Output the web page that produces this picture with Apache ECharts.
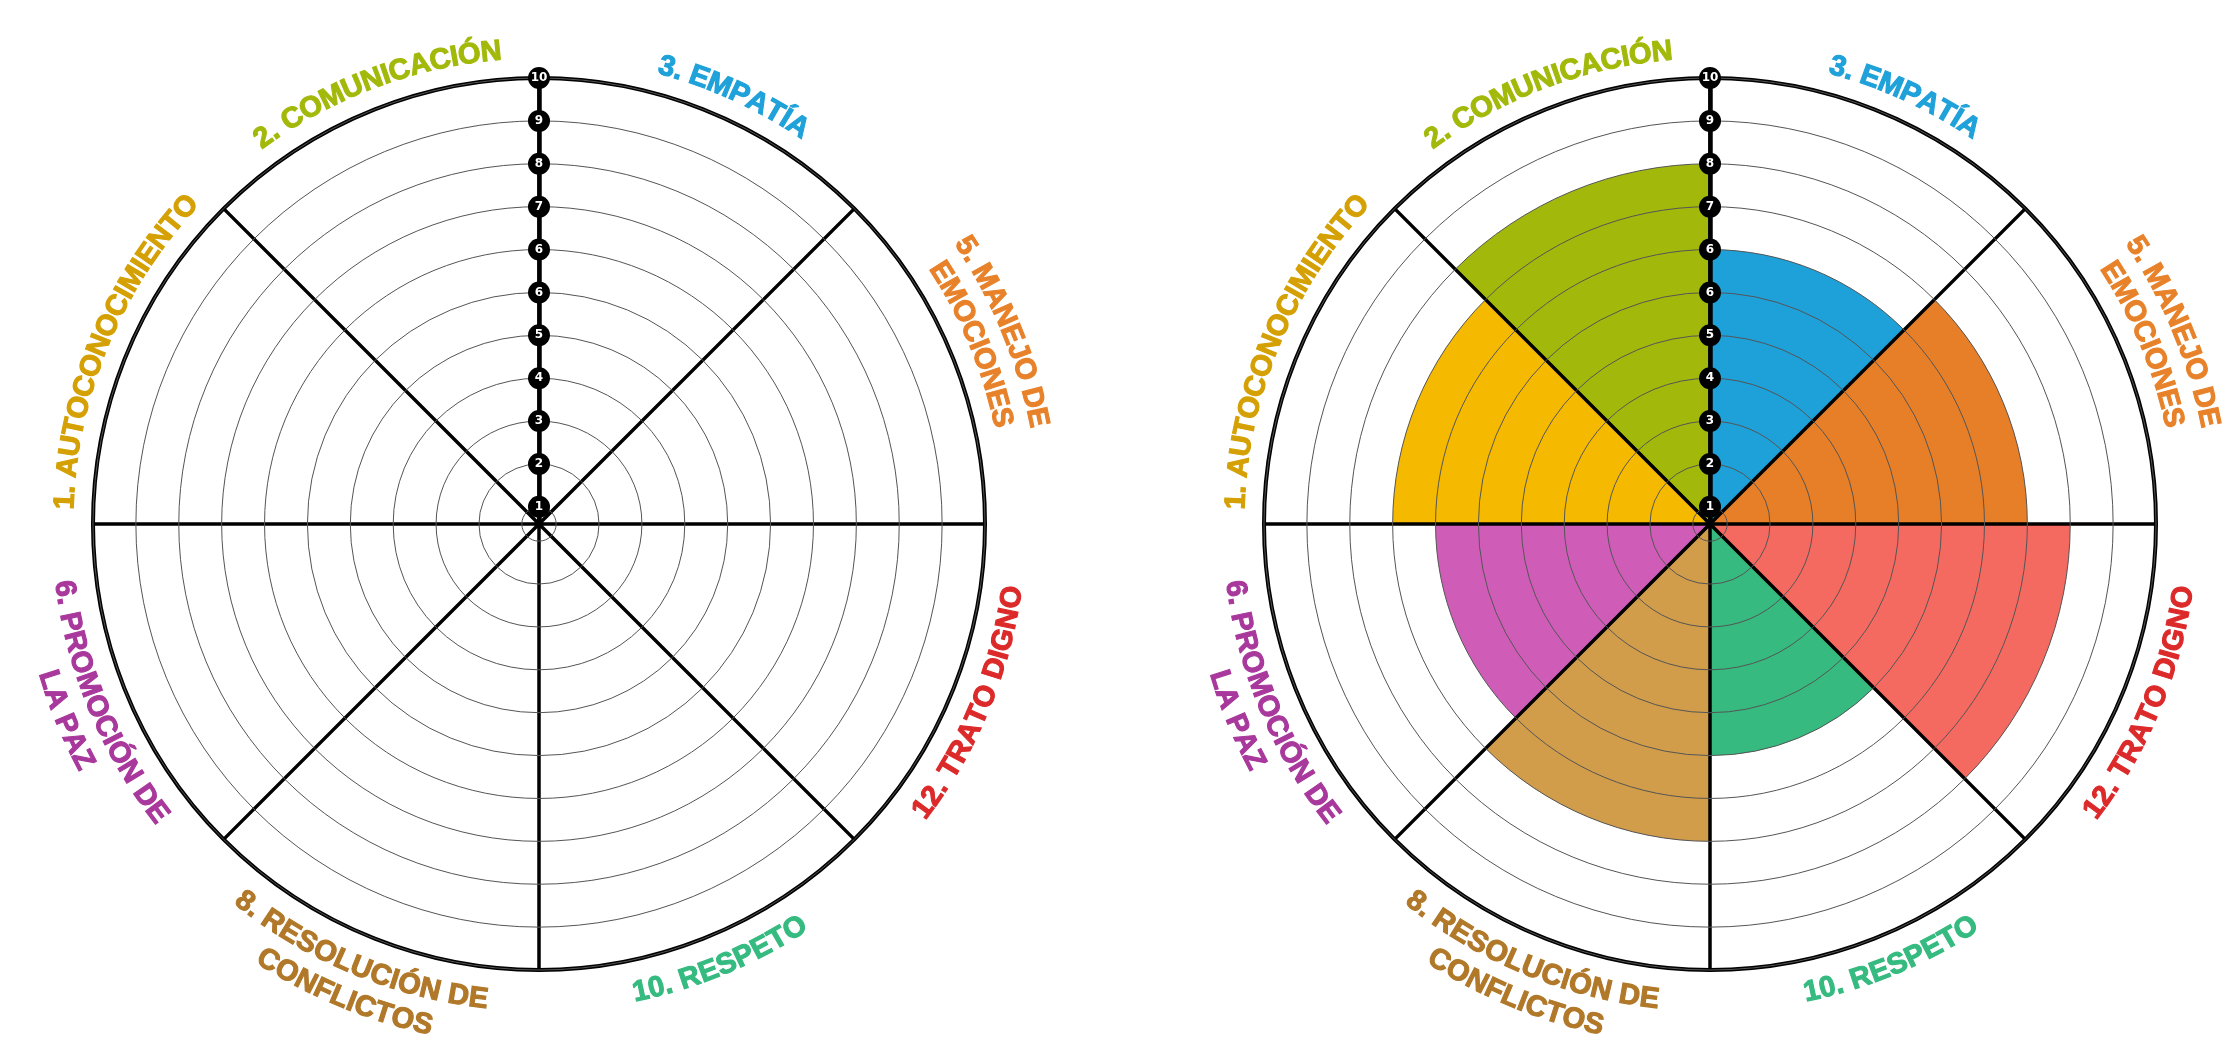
<!DOCTYPE html>
<html><head><meta charset="utf-8">
<script src="https://cdn.jsdelivr.net/npm/echarts@6/dist/echarts.min.js"></script>
<style>html,body{margin:0;padding:0;background:#fff}#chart{width:2240px;height:1062px}</style>
</head><body><div id="chart"></div>
<script>
// ---- data (sectors listed clockwise starting at 12 o'clock) ----
const categories = ['3. EMPATÍA', '5. MANEJO DE\nEMOCIONES', '12. TRATO DIGNO', '10. RESPETO',
  '8. RESOLUCIÓN DE\nCONFLICTOS', '6. PROMOCIÓN DE\nLA PAZ', '1. AUTOCONOCIMIENTO', '2. COMUNICACIÓN'];
// ring labels printed on the vertical spoke, ring 1 (innermost) .. ring 11 (outer circle)
const tickLabels = ['1', '2', '3', '4', '5', '6', '6', '7', '8', '9', '10'];
// ring reached by each sector in the filled (right) wheel, as ring number 1..11
const levels = [7, 8, 9, 6, 8, 7, 8, 9];
const labelColors = ['#1fa1d9', '#e8822a', '#dc2a2a', '#35ba80', '#b07828', '#a8389c', '#d4a003', '#a3b90a'];
const fillColors = ['#1ea0d9', '#e67f27', '#f56a60', '#36ba7f', '#d19d4b', '#cf5db8', '#f5ba00', '#a2b90c'];

// ---- layout ----
const CENTERS = [[539, 524], [1710, 524]];
const RADIUS = 446;
const FONT_SIZE = 29;
const FONT_FAMILY = 'Liberation Sans';
const LINE_PITCH = 35;
const NEAR_R_UPPER = RADIUS + 28;
const NEAR_R_LOWER = RADIUS + 33;
const LABEL_ANGLE_SHIFT = [-2, 0, 0, 0, 0, 0, 0, -2];

const chart = echarts.init(document.getElementById('chart'));

const measureCtx = document.createElement('canvas').getContext('2d');
measureCtx.font = 'bold ' + FONT_SIZE + 'px "' + FONT_FAMILY + '"';

function arcText(cx, cy, text, midDeg, color) {
  const els = [];
  const lines = text.split('\n');
  const upper = Math.sin(midDeg * Math.PI / 180) > 0;
  const n = lines.length;
  lines.forEach((line, li) => {
    const r = upper ? NEAR_R_UPPER + (n - 1 - li) * LINE_PITCH : NEAR_R_LOWER + li * LINE_PITCH;
    const chars = Array.from(line);
    const widths = chars.map(c => measureCtx.measureText(c).width);
    const W = widths.reduce((a, b) => a + b, 0);
    const mid = midDeg * Math.PI / 180;
    let acc = 0;
    chars.forEach((c, k) => {
      const off = (acc + widths[k] / 2 - W / 2) / r;
      acc += widths[k];
      const th = upper ? mid - off : mid + off;
      const rot = upper ? th - Math.PI / 2 : th + Math.PI / 2;
      els.push({
        type: 'text', x: cx + r * Math.cos(th), y: cy - r * Math.sin(th), rotation: rot,
        silent: true,
        style: { text: c, fill: color, stroke: color, lineWidth: 1.1, fontSize: FONT_SIZE, fontWeight: 'bold',
          fontFamily: FONT_FAMILY, align: 'center', verticalAlign: 'middle' }
      });
    });
  });
  return els;
}

const graphics = [];
CENTERS.forEach(([cx, cy]) => {
  categories.forEach((cat, i) => {
    const midDeg = 90 - 45 * i - 22.5 + LABEL_ANGLE_SHIFT[i];
    graphics.push(...arcText(cx, cy, cat, midDeg, labelColors[i]));
  });
});

const polar = CENTERS.map(c => ({ center: c, radius: RADIUS }));
const angleAxis = CENTERS.map((c, i) => ({
  polarIndex: i, type: 'category', data: categories, startAngle: 90, clockwise: true, boundaryGap: true, z: 10,
  axisLine: { show: true, lineStyle: { color: '#000', width: 4 } },
  axisTick: { show: false }, axisLabel: { show: false },
  splitLine: { show: true, lineStyle: { color: '#000', width: 3.5 } }, splitArea: { show: false }
}));
const radiusAxis = CENTERS.map((c, i) => ({
  polarIndex: i, type: 'value', min: 0.6, max: 11, splitNumber: 10, minInterval: 1, maxInterval: 1, z: 11,
  axisLine: { show: true, lineStyle: { color: '#000', width: 4.5 } },
  axisTick: { show: false },
  splitLine: { show: true, lineStyle: { color: '#555', width: 1 } },
  axisLabel: {
    show: true, showMinLabel: false, showMaxLabel: true, margin: 0, inside: false,
    formatter: v => (Number.isInteger(v) ? tickLabels[v - 1] : ''),
    color: '#fff', fontSize: 12, fontWeight: 'bold', fontFamily: 'DejaVu Sans',
    backgroundColor: '#000', borderRadius: 11, width: 22, height: 22, lineHeight: 22,
    align: 'center', verticalAlign: 'middle', padding: 0
  }
}));

chart.setOption({
  backgroundColor: '#fff',
  animation: false,
  polar, angleAxis, radiusAxis,
  series: [{
    type: 'bar', coordinateSystem: 'polar', polarIndex: 1, z: 2,
    barCategoryGap: '0%', barWidth: '100%', clip: true,
    data: levels.map((v, i) => ({ value: v, itemStyle: { color: fillColors[i] } }))
  }],
  graphic: { elements: graphics }
});
</script></body></html>
